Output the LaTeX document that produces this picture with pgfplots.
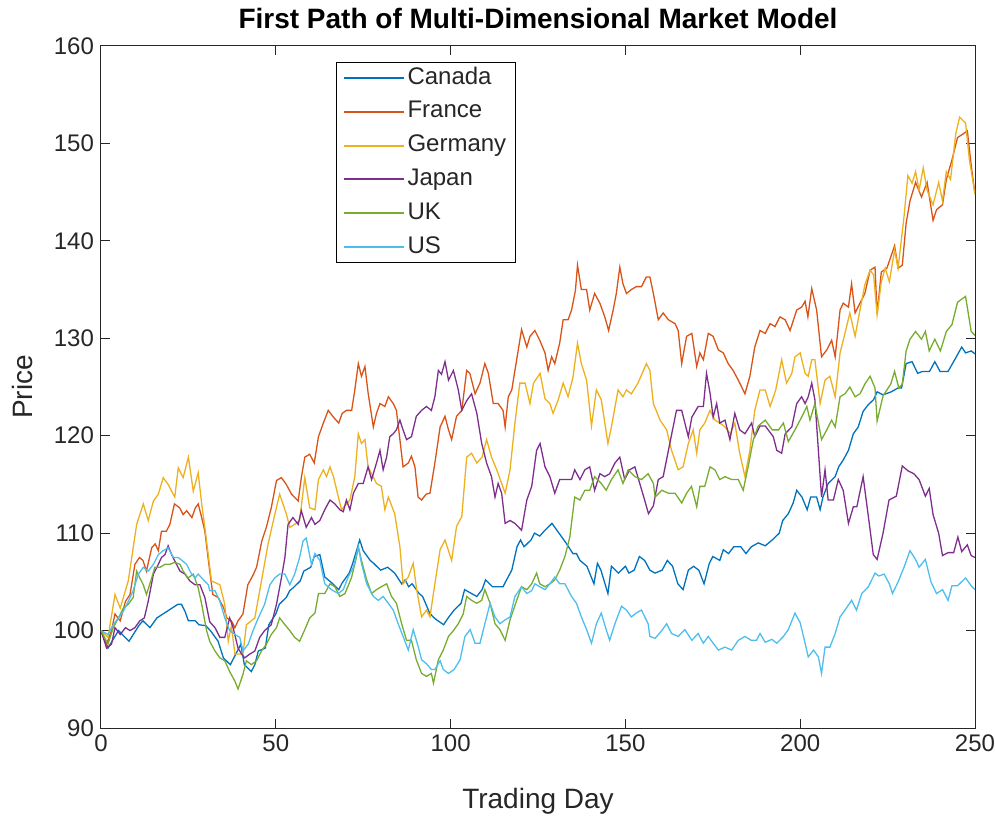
\documentclass[border=0pt]{standalone}
\usepackage{fontspec}
\setmainfont{Liberation Sans}
\usepackage{pgfplots}
\pgfplotsset{compat=1.18}

% MATLAB default line colours
\definecolor{cCanada}{rgb}{0,0.447,0.741}
\definecolor{cFrance}{rgb}{0.850,0.325,0.098}
\definecolor{cGermany}{rgb}{0.929,0.694,0.125}
\definecolor{cJapan}{rgb}{0.494,0.184,0.556}
\definecolor{cUK}{rgb}{0.466,0.674,0.188}
\definecolor{cUS}{rgb}{0.301,0.745,0.933}

\begin{document}
\begin{tikzpicture}
\begin{axis}[
    width=437pt, height=341pt, scale only axis,
    xmin=0, xmax=250, ymin=90, ymax=160,
    xtick={0,50,...,250}, ytick={90,100,...,160},
    tick align=inside, major tick length=4.5pt,
    axis line style={black!85, line width=0.5pt},
    every tick/.style={black!85, line width=0.5pt},
    /pgf/number format/assume math mode=true,
    tick label style={font=\fontsize{12}{14}\selectfont, text=black!85},
    title={\textbf{First Path of Multi-Dimensional Market Model}},
    every axis title shift=0pt,
    title style={font=\fontsize{14}{16}\selectfont, at={(axis description cs:0.5,1.041)}, anchor=center},
    xlabel={Trading Day}, ylabel={Price},
    label style={font=\fontsize{14}{16}\selectfont, text=black!85},
    xlabel style={at={(axis description cs:0.5,-0.108)}, anchor=center},
    ylabel style={at={(axis description cs:-0.0904,0.5)}, anchor=center},
    every axis plot/.append style={line width=0.65pt},
    legend style={at={(0.2689,0.9765)}, anchor=north west, draw=black, line width=0.5pt,
        font=\fontsize{12}{14}\selectfont, text=black!85,
        inner xsep=3.25pt, inner ysep=2pt, row sep=5.5pt,
        nodes={inner xsep=1.25pt, inner ysep=0pt, text height=8.8pt, text depth=2.6pt}},
    legend cell align=left,
    legend image code/.code={\draw[#1, line width=1pt] (0pt,0pt) -- (30pt,0pt);},
]

% Canada
\addplot[cCanada] coordinates {
(0,100) (2,98.2) (5,100) (8,98.9) (11,100.6) (12,101) (14,100.3) (16,101.3) (19,102) (22,102.7)
(23,102.7) (24,102) (25,101) (27,101) (28,100.6) (30,100.5) (31.5,99.9) (33.5,98.9) (35,97.2) (37,96.5)
(38,97.2) (40,98.6) (41,96.5) (43,95.8) (44,96.5) (45,97.9) (47,98.2) (48,100.6) (50,101.7) (51,102.7)
(53,103.4) (54,104.1) (55,104.4) (57,105.1) (58,106.1) (60,106.5) (61,107.6) (62.6,107.8) (64,105.5) (66,104.9)
(68,104.2) (69,104.9) (71,105.9) (72,106.9) (74,109.3) (75,108.2) (77,107.2) (78,106.9) (80,106.2) (82,106.5)
(83,106.2) (84,105.9) (86,104.8) (87,105.2) (88,104.5) (89,104.8) (91,103.8) (92,103.5) (94,101.8) (95,101.4)
(96,101.1) (98,100.6) (99.5,101.4) (101,102.1) (103,102.8) (104,104.2) (106,103.8) (107.5,103.5) (109,104.2) (110,105.2)
(112,104.5) (113.5,104.5) (115,104.5) (116,105.2) (117.5,106.2) (119,108.6) (120,109.3) (121,108.6) (123,109.3) (124,110)
(125.5,109.7) (127,110.3) (129,111) (131,110) (133,109) (135,107.9) (136,107.9) (137,107.2) (139,106.6) (141,104.8)
(142,106.9) (143,106.2) (145,103.8) (146,106.6) (148,105.9) (150,106.6) (151,105.9) (152.5,106.2) (154,107.6) (155.5,107.2)
(157,106.2) (158.5,105.9) (160.5,106.2) (162,107.2) (163.5,106.6) (165,104.8) (166.5,104.2) (168,106.2) (169.5,106.6) (171,106.2)
(172.5,104.8) (174,106.9) (175,107.6) (177,107.2) (178,108.3) (179.5,107.9) (181,108.6) (183,108.6) (184.5,107.9) (186,108.6)
(188,109) (190,108.7) (192,109.3) (194,110) (195,111.3) (196.6,112) (198,113.1) (199,114.4) (200.5,113.7) (202,112.4)
(203,113.7) (204.7,113.7) (205.7,112.4) (206.5,113.7) (208,115.1) (210,115.8) (211,116.8) (212.3,117.5) (213.8,118.5) (215.2,120.2)
(216.6,120.9) (218,122.5) (219.5,123.2) (221,123.7) (222,124.5) (223.7,124.2) (226,124.5) (228,124.9) (229,124.9) (230.3,127.4)
(232,127.6) (233.6,126.4) (235,126.6) (237,126.6) (238.5,127.6) (240,126.6) (242.3,126.6) (244.5,128) (246.2,129.1) (247.3,128.5)
(248.9,128.7) (250,128.4)
};
\addlegendentry{Canada}

% France
\addplot[cFrance] coordinates {
(0,100) (1.6,98.6) (3,100) (4,101.7) (5.5,101) (7,103) (8.3,103.7) (9.7,106.8) (11,107.5) (12,107.2)
(13,106.1) (14.5,108.5) (15.5,108.9) (16.4,108.2) (17.3,110.2) (18.7,110.2) (19.7,110.9) (21,113) (22.5,112.6) (23.5,111.9)
(24.5,112.3) (26,111.6) (27,112.6) (27.8,113) (28.8,111.6) (29.7,110.2) (31.1,106.1) (32,103.7) (33.5,103.4) (35,102.4)
(36,101.3) (37.3,101) (38.3,100.3) (39.2,101) (40.6,101.7) (42,104.7) (43.5,105.7) (44.5,106.5) (46,109.2) (47.3,110.6)
(48.7,112.6) (50.2,115.4) (51.6,115.7) (53,115) (54.5,114) (56.4,113.3) (57.3,115.7) (58.3,117.8) (59.7,118.1) (61,117.2)
(62.2,119.9) (63.6,121.3) (65,122.6) (66.5,121.9) (68,121.3) (69,122.3) (70.2,122.6) (71.7,122.6) (72.6,124.7) (73.6,127.4)
(74.5,126.1) (75.5,127.1) (76.4,124.4) (77.9,120.9) (78.8,122.3) (79.8,123.3) (81.2,123) (82.2,124) (83.6,123.3) (84.5,122.6)
(85.5,119.6) (86.4,116.8) (87.9,117.2) (88.8,117.9) (89.8,116.8) (90.7,113.7) (91.7,113.4) (93,114) (94.1,114.1) (95.5,117.2)
(97,120.9) (98.4,122) (99.4,120.6) (100.3,119.6) (101.7,122) (103.2,122.6) (104.6,126.7) (105.5,126.4) (107,124.3) (108.4,125.4)
(109.8,127.4) (110.8,126.4) (112.2,123.3) (113.6,123.3) (115,122.6) (115.6,120.9) (116.5,124) (117.5,124.7) (118.9,127.8) (120.3,130.9)
(121.8,129.1) (122.7,130.2) (124.1,130.8) (125.5,129.8) (127,128.5) (127.9,126.7) (128.9,128.1) (129.8,127.4) (131.2,129.5) (132.2,131.9)
(133.6,131.9) (134.6,132.9) (135.7,134.9) (136.3,137.5) (137.4,135) (138.9,135) (139.8,132.9) (141.2,134.6) (142.7,133.6) (144.1,132.2)
(145.2,130.8) (146.5,132.9) (147.4,134.6) (148.4,137.3) (149.3,135.6) (150.3,134.6) (151.7,135) (153.1,135.3) (154.6,135.3) (156,136.3)
(157,136.3) (158,134.6) (159.4,131.9) (160.8,132.6) (162.3,131.9) (164.2,131.5) (165.1,130.8) (166.1,127.4) (167.5,130.2) (169,130.5)
(170.4,127.1) (171.3,128.5) (172.3,127.8) (173.7,130.5) (175.1,130.2) (176.6,128.8) (178,128.5) (179.4,127.4) (180.8,126.7) (182.3,125.7)
(184.2,124.3) (185.6,126.1) (187,129.1) (188.5,130.8) (190,130.5) (191.4,131.5) (192.8,131.2) (194.2,132.2) (195.7,131.9) (197.1,130.8)
(199,132.9) (200.4,133.2) (201.4,133.8) (202.2,132.2) (203.3,135.1) (204.7,132.9) (206.1,128.1) (207.6,128.8) (209,129.8) (210,128.1)
(211.4,132.9) (212.3,133.6) (213.8,133.2) (214.7,135.6) (215.7,132.6) (217.1,133.6) (218.5,134.6) (220,137) (221.4,137.3) (222,132.5)
(223.2,136.8) (224.8,137.2) (227,139.5) (228,137.2) (229.2,137.5) (230.3,141.8) (231.4,144.1) (233,146) (234.7,144.5) (236.3,146)
(238,142.1) (239,143.2) (240.7,143.7) (241.8,146.3) (243.4,148.3) (245,150.6) (246.7,151) (247.8,151.3) (249,147.5) (250,144.8)
};
\addlegendentry{France}

% Germany
\addplot[cGermany] coordinates {
(0,100) (2,99.3) (4,103.7) (5.5,102.3) (7.8,105.1) (10.2,110.9) (12.1,113) (13.5,111.3) (15,113.3) (16.4,114)
(17.8,115.7) (19.2,115) (21.1,113.7) (22.1,116.7) (23.5,115.7) (25,117.8) (26.4,114.3) (27.8,116.2) (28.8,113) (29.7,110.6)
(31.6,105.1) (34,104.7) (35.4,102.7) (36.4,98.9) (37.3,100.5) (38.3,97.6) (40.6,97.6) (41.6,100.6) (44,101.3) (45.9,105.1)
(47.8,108.9) (49.7,111.9) (51.1,114) (53,112) (54,110.6) (55.4,110.9) (56.8,111.3) (58.3,115.7) (59.7,112.6) (61.2,112.4)
(62.2,115.5) (63.6,116.5) (64.5,115.8) (65.5,116.8) (66.5,115.8) (67.9,113.7) (68.8,112.4) (70.2,113) (71.2,113.4) (72.6,115.8)
(73.6,120.2) (74.5,119.2) (75.5,119.6) (76.4,116.8) (77.4,116.1) (78.8,115.1) (80.2,114.8) (81.2,112.4) (82.2,113.7) (84,112)
(85.5,108.6) (86.4,104.8) (87.9,105.5) (89.3,106.9) (90.3,104.2) (91.7,101.4) (93.1,102.1) (94.1,101.4) (95.5,104.8) (97,108.3)
(98.4,109.3) (100.3,107.2) (101.7,110.7) (103.2,111.7) (104.6,117.8) (106,118.2) (107.5,117.2) (109,117.8) (110.3,119.6) (111.7,117.8)
(113.2,116.5) (114.6,115.1) (115.6,114.1) (117,116.5) (118.4,121.3) (119.8,125.4) (121.3,125.4) (122.7,123.3) (123.7,125.4) (125.6,126.4)
(127,123.8) (128.4,123.3) (129.3,122.3) (130.8,123.7) (132.2,125.4) (133.6,124) (135,126) (136.3,129.5) (137.4,127.4) (138.9,125.7)
(140.3,121) (141.7,124.7) (143.1,123.7) (145,119.2) (146,120.9) (147.9,124.7) (149.3,124) (150.3,124.7) (151.7,124.3) (153.6,125.4)
(156,127.4) (157,126.7) (158,123.3) (159.9,121.6) (161.8,120.6) (163.2,118.5) (165.1,116.5) (166.5,116.8) (168,119.2) (169.4,120.6)
(170.4,118.2) (171.3,120.6) (172.7,121.3) (174.2,122.6) (175.6,121.6) (177,121.3) (178.5,120.9) (180,120.2) (181.3,121.3) (182.7,118.2)
(184.2,115.8) (185.6,118.5) (187,122.6) (188.5,124.7) (190,124.7) (191.4,123) (193,124.7) (194.7,127.8) (196.1,125.4) (197.6,126.4)
(198.5,128.1) (200,128.5) (201.4,126.4) (202.3,126.1) (203.3,127.8) (204.2,127.8) (205.7,123.3) (207.1,125.7) (208.5,126.1) (210,124)
(211.4,128.5) (212.8,130.5) (214.2,132.6) (215.7,130.2) (217.1,132.9) (218.5,135.5) (220,137) (221,136.5) (222,132.4) (223.2,135.8)
(224.3,137.2) (225.5,135.8) (227,139.1) (228,137.2) (229.7,142.5) (230.8,146.7) (232,145.9) (233,147.1) (234,145.2) (235.2,147.5)
(236.3,145.2) (238,143.7) (239.6,146) (240.7,144.1) (241.8,147.1) (243,146.3) (244.5,151) (245.6,152.7) (247.3,152.1) (248.4,148.3)
(250,144.8)
};
\addlegendentry{Germany}

% Japan
\addplot[cJapan] coordinates {
(0,100) (1.6,98.2) (3,98.6) (4,100.3) (5.5,99.6) (7,100.3) (8.3,100) (9.7,100.3) (11.1,101) (12.4,101.3)
(13.5,103) (15,105.8) (16.4,106.8) (17.3,107.5) (18.3,107.8) (19.2,108.7) (20.2,107.8) (21.6,106.8) (22.6,106.1) (24,105.8)
(25.4,105.1) (26.9,104.7) (28.3,104.7) (29.7,103.4) (31.1,100.9) (32.6,100.3) (34,99.3) (35.4,99.3) (36.8,101.3) (37.8,100.3)
(39.2,98.2) (40.2,97.6) (41.1,97.2) (42.6,97.6) (44,97.9) (45.4,99.3) (46.8,100) (48.7,100.6) (50.2,102.7) (51.6,105.4)
(52.6,107.5) (53.5,110.9) (54.9,111.6) (56.4,110.9) (57.3,112.3) (58.7,110.6) (60.2,111.6) (61.2,110.9) (62.6,111.3) (64,112.4)
(65.5,113.4) (66.9,113) (68.3,112.4) (69.3,112.2) (70.2,113.4) (71.2,112.4) (72.2,114.1) (73.6,115.1) (75,115.1) (76.4,116.8)
(77.4,115.5) (78.8,117.2) (79.8,118.5) (80.7,116.5) (81.7,117.8) (82.6,119.9) (83.6,120.2) (84.5,120.6) (85.5,121.6) (86.4,120.6)
(87.4,119.6) (88.8,119.9) (90.2,122) (91.7,122.6) (93.1,123) (94.5,122.6) (95.5,124) (96.5,126.7) (97.4,126.3) (98.4,127.6)
(99.4,125.7) (100.8,126.7) (102.2,124.7) (103.2,122.6) (104.6,123.6) (106,124.3) (107.5,122.3) (108.9,119.2) (110.3,117.2) (111.7,115.8)
(112.7,113.7) (113.6,115.1) (114.6,114.1) (115.6,111) (117,111.3) (118.4,111) (120.3,110.3) (121.8,113.4) (123.2,114.8) (124.6,118.5)
(125.6,119.2) (127,116.8) (128.4,115.8) (129.8,114.1) (131.2,115.5) (132.7,115.5) (134.6,115.5) (135.5,116.5) (137,115.5) (138.4,116.5)
(139.8,116.8) (141.2,114.4) (142.7,116.1) (144.1,115.8) (145.5,116.1) (147,117.2) (148.4,117.8) (149.8,115.5) (151.2,116.5) (152.7,116.8)
(154.1,115.1) (155.5,113.4) (156.6,112) (158,112.8) (159.4,115.5) (160.8,115.8) (162.7,119.2) (164.6,122.6) (166.1,122.6) (168,119.9)
(169,121.9) (170.8,123) (172.3,123) (173.2,126.4) (174.2,124.4) (175.1,121.9) (176.1,123.3) (177,121.3) (178.5,121.6) (179.9,119.6)
(181.3,122.3) (182.7,120.6) (184.2,120.2) (186.1,121.3) (187,119.9) (188.5,121) (190,121) (192.3,119.9) (193.3,118.5) (194.7,118.2)
(195.7,120.2) (197.6,120.9) (199,123.3) (200.4,124) (201.4,123.3) (202.3,124) (203.3,125.4) (204.2,123.7) (205.2,118.5) (206.1,113.7)
(207.1,116.5) (208,113.4) (209.5,113.4) (210.9,115.5) (212.3,114.4) (213.8,111) (215.2,112.7) (216.2,112.7) (218,115.8) (219.5,111.7)
(220.9,107.8) (222,107.3) (223.7,110) (225.4,113.4) (227.5,113.8) (229.2,116.9) (230.8,116.4) (232.5,116.1) (234,115.5) (235.8,113.8)
(236.9,114.6) (238,111.9) (239.6,110) (240.7,107.7) (242.3,108) (243.9,108) (245.1,109.6) (246.2,108.1) (247.8,108.8) (248.9,107.7)
(250,107.5)
};
\addlegendentry{Japan}

% UK
\addplot[cUK] coordinates {
(0,100) (2,98.6) (3.5,100.3) (5,101.3) (6.4,102.3) (7.8,102.7) (9.2,103.4) (10.2,106.1) (11.1,105.4) (12.1,104.7)
(13,103.7) (14.5,105.4) (15.4,106.5) (16.9,106.5) (18.3,106.8) (19.7,106.8) (21.1,107) (22.6,106.8) (23.5,106.1) (24.9,105.4)
(26.4,105.8) (27.8,104.4) (28.8,102.7) (30.2,100) (31.1,98.9) (32.6,97.9) (34,97.2) (35.4,96.9) (36.8,95.8) (38.3,94.8)
(39.2,94) (40.6,95.5) (41.6,96.9) (43,96.5) (44.5,96.9) (45.9,97.9) (47.3,98.6) (48.7,99.6) (50.2,100.3) (51.1,101.3)
(52.6,100.6) (54,100) (55.4,99.3) (56.8,98.9) (58.3,100.1) (59.7,101.3) (61.2,101.8) (62.2,103.8) (64,103.8) (65.5,104.8)
(66.9,104.5) (68.3,103.5) (69.8,103.8) (71.7,105.5) (73.1,107.6) (73.6,108.6) (74.5,107.2) (76,105.2) (77.4,103.8) (78.8,104.2)
(80.2,104.5) (81.7,104.8) (83.1,103.5) (84.5,102.8) (86,100.7) (87.4,99) (88.8,99) (90.2,97) (91.7,95.6) (93.1,95.3)
(94.5,95.6) (95.1,94.6) (96.5,97) (97.9,98) (99.4,99.4) (100.8,100) (102.2,100.7) (103.6,101.7) (104.6,103.5) (106,103.1)
(107.5,102.8) (108.9,103.1) (109.8,104.2) (111.3,102.8) (112.7,100.7) (114.1,100.1) (115.6,99) (117,101.1) (118.9,103.1) (120.3,104.5)
(121.8,104.2) (123.2,104.8) (124.6,105.9) (125.5,104.8) (127,104.5) (128.4,104.8) (129.8,105.2) (131.2,106.2) (132.7,107.6) (134.1,109.6)
(135.5,113.7) (137,113.4) (138.4,114.4) (139.8,114.4) (141.2,115.8) (143.1,115.1) (144.5,114.4) (146,115.5) (147.9,116.5) (149.3,115.1)
(150.8,116.5) (152.7,115.8) (154.6,115.5) (156.5,116.1) (158,115.1) (158.5,113.7) (160.4,114.4) (162.3,114.1) (164.2,114.1) (166.1,113.1)
(167.5,114.1) (168.9,114.8) (170.4,112.7) (171.3,114.8) (172.7,114.8) (174.2,116.8) (175.6,116.5) (177,115.5) (178.5,115.8) (180.4,115.5)
(182.3,115.5) (183.7,114.4) (185.1,116.8) (186.6,119.6) (188,121) (190,121.6) (192,120.6) (193.8,120.6) (195.2,121.3) (196.6,119.4)
(198.5,120.6) (200.4,121.9) (201.9,123) (202.8,121.6) (204.2,123.3) (206.1,119.6) (207.6,120.6) (209,121.6) (210,120.9) (211.4,124)
(212.8,124.3) (214.2,125) (215.7,124) (217.1,124.3) (218.5,125.3) (220,126.1) (221.4,124.9) (222,121.5) (223.7,124.1) (225.9,125.3)
(227,126.6) (228.2,124.9) (229.2,125.3) (230.3,128.7) (231.4,129.9) (233,130.7) (234.7,129.9) (235.8,130.7) (236.9,128.7) (238.5,129.9)
(240.1,128.7) (241.8,130.7) (243.4,131.4) (245,133.7) (247.3,134.3) (248.9,130.7) (250,130.3)
};
\addlegendentry{UK}

% US
\addplot[cUS] coordinates {
(0,100) (2,99.6) (3.5,100.6) (5,101.3) (6.4,102) (7.8,103) (9.2,104.1) (10.7,105.8) (12.1,106.5) (13.5,106.1)
(15,106.8) (16.4,107.8) (17.8,108.2) (19.2,108.5) (20.7,107.5) (22.1,107.5) (23.5,107.1) (24.5,106.8) (25.9,105.8) (26.9,105.4)
(27.8,105.8) (28.8,105.4) (30.7,104.7) (31.1,104.1) (32.6,104.1) (34,103) (35.4,101.3) (36.8,100) (38.3,99.6) (39.7,99.3)
(40.6,97.9) (42.1,98.6) (43.5,100) (45,101.3) (46.8,102.7) (48.3,104.7) (49.7,105.4) (51.1,105.8) (52.6,105.8) (54,104.7)
(55.4,105.8) (56.8,107.5) (57.8,109.2) (58.7,109.5) (60.2,106.8) (61.2,107.9) (62.6,107.2) (64,104.8) (65.9,104.2) (67.9,103.8)
(69.3,104.2) (70.7,105.5) (72.2,106.5) (73.6,108.6) (74.5,106.9) (76,104.8) (77.9,103.5) (79.3,103.1) (80.7,103.5) (82.2,102.8)
(83.6,102.1) (85,100.7) (86.4,99.4) (87.9,98) (89.3,100.1) (90.7,98.4) (91.7,97) (93.1,96.6) (94.5,96) (95.5,96)
(97,96.9) (97.9,96) (99.4,95.6) (101,96) (102.7,97) (104.1,99.4) (105.6,100.1) (107,98.7) (108.4,98.7) (109.8,100.7)
(111.3,102.8) (112.7,101.4) (114.1,100.7) (115.6,101.1) (117,101.4) (118.4,103.5) (120.3,104.5) (121.8,103.8) (123.2,104.1) (124.1,104.8)
(125.5,104.5) (127,104.2) (128.4,104.8) (129.8,105.5) (131.2,104.8) (132.7,104.8) (134.6,103.5) (136,102.8) (137.4,101.4) (138.9,100.1)
(140.3,98.7) (141.7,100.7) (143.1,101.8) (144.5,100.1) (145.5,99) (147,100.7) (148.9,102.5) (150.3,102.1) (151.7,101.4) (153.1,101.8)
(154.6,102.1) (156.5,100.7) (157,99.4) (158.5,99.2) (160.4,100) (161.8,100.7) (163.2,99.7) (165.1,99.4) (167,100.1) (169,99)
(170.8,99.7) (172.3,98.7) (173.7,99.4) (175.1,98.7) (176.6,98) (178.5,98.3) (180.4,98) (182.3,99) (184.2,99.4) (186,99)
(187.5,99) (188.5,99.7) (190,98.8) (191.9,99.1) (193.3,98.7) (195.2,99.4) (196.6,100.1) (198.5,101.8) (200,100.8) (201.4,98.7)
(202.3,97.3) (203.8,98) (205.2,97.3) (206.1,95.6) (207.1,98.3) (208.5,98.3) (210,99.7) (211.4,101.4) (212.8,102.1) (214.7,103.1)
(216.1,102.1) (217.6,103.8) (219.5,104.5) (221.4,105.9) (222.5,105.6) (224,105.8) (225.5,104.8) (226.4,103.8) (228,105) (229.7,106.5)
(231.4,108.2) (233,107.3) (234,106.5) (235.8,107.3) (237.4,105) (239,103.8) (240.7,104.2) (242.3,103.1) (243.4,104.6) (245,104.6)
(247.3,105.4) (248.9,104.6) (250,104.2)
};
\addlegendentry{US}

\end{axis}
% page size as in the reference: margins round the axis box
\pgfresetboundingbox
\path ([xshift=-50.5pt,yshift=-45.5pt]current axis.south west)
    rectangle ([xshift=10pt,yshift=23pt]current axis.north east);
\end{tikzpicture}
\end{document}
